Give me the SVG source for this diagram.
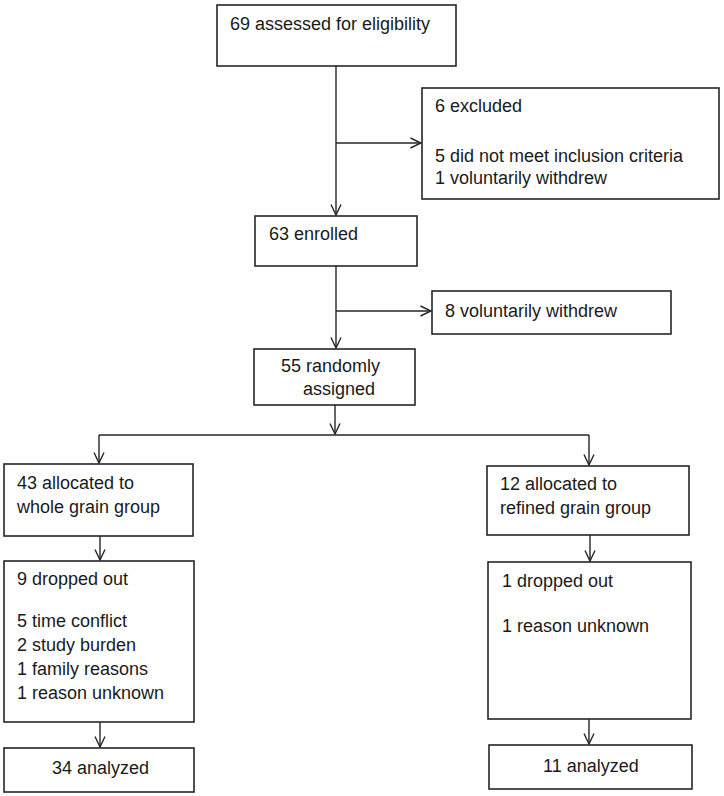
<svg xmlns="http://www.w3.org/2000/svg" width="724" height="796" viewBox="0 0 724 796">
<style>
  .box { fill: #ffffff; stroke: #262626; stroke-width: 1.6; }
  .t { font-family: "Liberation Sans", Arial, sans-serif; font-size: 18px; fill: #1a1a1a; }
  .ln { fill: none; stroke: #262626; stroke-width: 1.4; }
</style>
<defs>
  <marker id="arr" markerUnits="userSpaceOnUse" markerWidth="12" markerHeight="12" viewBox="0 0 12 12" refX="11.5" refY="6" orient="auto">
    <path d="M1,1 L11.5,6 L1,11" fill="none" stroke="#262626" stroke-width="1.4"/>
  </marker>
</defs>
<rect width="724" height="796" fill="#ffffff"/>

<g id="connectors">
  <line class="ln" x1="336" y1="66" x2="336" y2="215" marker-end="url(#arr)"/>
  <line class="ln" x1="336" y1="143" x2="421" y2="143" marker-end="url(#arr)"/>
  <line class="ln" x1="336" y1="266" x2="336" y2="348" marker-end="url(#arr)"/>
  <line class="ln" x1="336" y1="311" x2="431" y2="311" marker-end="url(#arr)"/>
  <line class="ln" x1="335" y1="405" x2="335" y2="434" marker-end="url(#arr)"/>
  <line class="ln" x1="99" y1="435" x2="589" y2="435"/>
  <line class="ln" x1="99" y1="435" x2="99" y2="463" marker-end="url(#arr)"/>
  <line class="ln" x1="589" y1="435" x2="589" y2="465" marker-end="url(#arr)"/>
  <line class="ln" x1="100" y1="536" x2="100" y2="560" marker-end="url(#arr)"/>
  <line class="ln" x1="590" y1="535" x2="590" y2="561" marker-end="url(#arr)"/>
  <line class="ln" x1="100" y1="722" x2="100" y2="747" marker-end="url(#arr)"/>
  <line class="ln" x1="589" y1="719" x2="589" y2="744" marker-end="url(#arr)"/>
</g>

<g id="assessed">
  <rect class="box" x="217" y="5" width="239" height="61"/>
  <text class="t" x="230" y="30">69 assessed for eligibility</text>
</g>

<g id="excluded">
  <rect class="box" x="422" y="88" width="297" height="111"/>
  <text class="t" x="435" y="112">6 excluded</text>
  <text class="t" x="435" y="162">5 did not meet inclusion criteria</text>
  <text class="t" x="435" y="184">1 voluntarily withdrew</text>
</g>

<g id="enrolled">
  <rect class="box" x="255" y="216" width="162" height="50"/>
  <text class="t" x="269" y="240">63 enrolled</text>
</g>

<g id="withdrew">
  <rect class="box" x="432" y="291" width="239" height="43"/>
  <text class="t" x="445" y="317">8 voluntarily withdrew</text>
</g>

<g id="randomized">
  <rect class="box" x="254" y="349" width="161" height="56"/>
  <text class="t" x="281" y="372">55 randomly</text>
  <text class="t" x="303" y="395">assigned</text>
</g>

<g id="whole-grain">
  <rect class="box" x="4" y="464" width="189" height="72"/>
  <text class="t" x="17" y="489">43 allocated to</text>
  <text class="t" x="17" y="513">whole grain group</text>
</g>

<g id="refined-grain">
  <rect class="box" x="487" y="466" width="202" height="69"/>
  <text class="t" x="500" y="490">12 allocated to</text>
  <text class="t" x="500" y="514">refined grain group</text>
</g>

<g id="whole-dropped">
  <rect class="box" x="4" y="561" width="190" height="161"/>
  <text class="t" x="17" y="585">9 dropped out</text>
  <text class="t" x="17" y="627">5 time conflict</text>
  <text class="t" x="17" y="651">2 study burden</text>
  <text class="t" x="17" y="675">1 family reasons</text>
  <text class="t" x="17" y="699">1 reason unknown</text>
</g>

<g id="refined-dropped">
  <rect class="box" x="488" y="562" width="203" height="157"/>
  <text class="t" x="502" y="587">1 dropped out</text>
  <text class="t" x="502" y="632">1 reason unknown</text>
</g>

<g id="whole-analyzed">
  <rect class="box" x="4" y="748" width="190" height="44"/>
  <text class="t" x="52" y="774">34 analyzed</text>
</g>

<g id="refined-analyzed">
  <rect class="box" x="489" y="745" width="203" height="44"/>
  <text class="t" x="543" y="772">11 analyzed</text>
</g>
</svg>
